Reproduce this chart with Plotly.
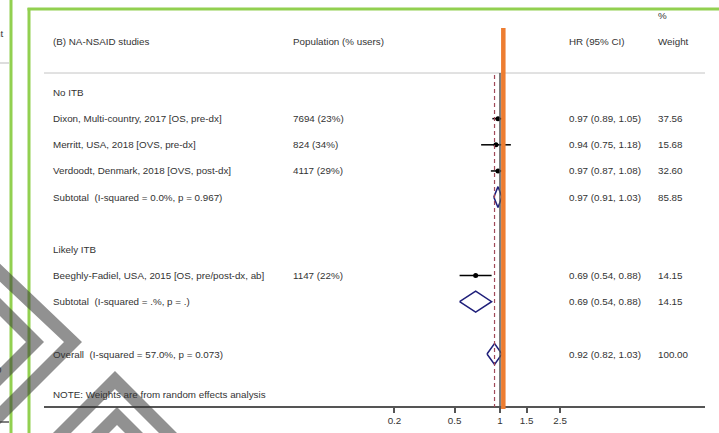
import plotly.graph_objects as go

# ---------------- data ----------------
studies = ["Dixon, Multi-country, 2017 [OS, pre-dx]",
           "Merritt, USA, 2018 [OVS, pre-dx]",
           "Verdoodt, Denmark, 2018 [OVS, post-dx]",
           "Beeghly-Fadiel, USA, 2015 [OS, pre/post-dx, ab]"]
population = ["7694 (23%)", "824 (34%)", "4117 (29%)", "1147 (22%)"]
study_hr = [0.97, 0.94, 0.97, 0.69]
study_lo = [0.89, 0.75, 0.87, 0.54]
study_hi = [1.05, 1.18, 1.08, 0.88]
study_w = ["37.56", "15.68", "32.60", "14.15"]
study_rows = [1, 2, 3, 7]

pooled = ["Subtotal\u00a0 (I-squared = 0.0%, p = 0.967)",
          "Subtotal\u00a0 (I-squared = .%, p = .)",
          "Overall\u00a0 (I-squared = 57.0%, p = 0.073)"]
pooled_hr = [0.97, 0.69, 0.92]
pooled_lo = [0.91, 0.54, 0.82]
pooled_hi = [1.03, 0.88, 1.03]
pooled_w = ["85.85", "14.15", "100.00"]
pooled_rows = [4, 8, 10]

groups = ["No ITB", "Likely ITB"]
group_rows = [0, 6]

tick_vals = [0.2, 0.5, 1, 1.5, 2.5]
tick_text = ["0.2", "0.5", "1", "1.5", "2.5"]
overall_hr = 0.92
null_hr = 1
orange_ref = 1.052

# ---------------- geometry helpers ----------------
W, H = 719, 433
ML, MR, MB = 44, 14, 20
PW, PH = W - ML - MR, H - MB
ROW0, ROWH = 92.5, 26.15
X_ONE, PX_PER_DECADE = 500, 151
AXIS_Y = 407


def px(p):
    return (p - ML) / PW


def py(p):
    return (PH - p) / PH


def prow(p):
    return (p - ROW0) / ROWH


FONT = "Liberation Sans, Arial, sans-serif"
FS = 9.8
TC = "#333333"

fig = go.Figure()

# CI lines + point estimates
for r, h, lo, hi in zip(study_rows, study_hr, study_lo, study_hi):
    fig.add_trace(go.Scatter(x=[lo, hi], y=[r, r], mode="lines",
                             line=dict(color="black", width=1.5),
                             hoverinfo="skip", showlegend=False))
fig.add_trace(go.Scatter(x=study_hr, y=study_rows, mode="markers",
                         marker=dict(color="black", size=5),
                         hoverinfo="skip", showlegend=False))

# diamonds
for r, h, lo, hi in zip(pooled_rows, pooled_hr, pooled_lo, pooled_hi):
    fig.add_trace(go.Scatter(x=[lo, h, hi, h, lo], y=[r, r - 0.4, r, r + 0.4, r],
                             mode="lines", line=dict(color="#1f1f7a", width=1.5),
                             hoverinfo="skip", showlegend=False))

ann = []


def text(x, y, s, anchor="left", yref="y"):
    ann.append(dict(x=px(x), y=y, xref="paper", yref=yref, text=s, showarrow=False,
                    xanchor=anchor, yanchor="middle",
                    font=dict(family=FONT, size=FS, color=TC)))


# headers
text(51, prow(41.7), "(B) NA-NSAID studies")
text(291, prow(41.7), "Population (% users)")
text(567, prow(41.7), "HR (95% CI)")
text(656, prow(15), "%")
text(656, prow(41.7), "Weight")

for g, r in zip(groups, group_rows):
    text(51, r, g)
for s, p, h, lo, hi, w, r in zip(studies, population, study_hr, study_lo, study_hi, study_w, study_rows):
    text(51, r, s)
    text(291, r, p)
    text(567, r, f"{h:.2f} ({lo:.2f}, {hi:.2f})")
    text(656, r, w)
for s, h, lo, hi, w, r in zip(pooled, pooled_hr, pooled_lo, pooled_hi, pooled_w, pooled_rows):
    text(51, r, s)
    text(567, r, f"{h:.2f} ({lo:.2f}, {hi:.2f})")
    text(656, r, w)
text(51, prow(394), "NOTE: Weights are from random effects analysis")

# left-panel remnants (cut by the crop edge, as in the reference)
text(5, prow(33), "nt", anchor="right")
text(4, prow(369), "0", anchor="right")

shapes = []
# separator line
shapes.append(dict(type="line", xref="paper", yref="y", x0=0, x1=1,
                   y0=prow(73), y1=prow(73), line=dict(color="#c4c4c4", width=1)))
# axis base line
shapes.append(dict(type="line", xref="paper", yref="y", x0=0, x1=1,
                   y0=prow(AXIS_Y), y1=prow(AXIS_Y), line=dict(color="#555555", width=2)))
# null line and overall dashed line
shapes.append(dict(type="line", xref="x", yref="y", x0=null_hr, x1=null_hr,
                   y0=prow(73), y1=prow(AXIS_Y), line=dict(color="#555555", width=1.5)))
shapes.append(dict(type="line", xref="x", yref="y", x0=overall_hr, x1=overall_hr,
                   y0=prow(75), y1=prow(AXIS_Y), line=dict(color="#a04858", width=1.2, dash="4px,3px")))
# orange overlay line
shapes.append(dict(type="line", xref="x", yref="y", x0=orange_ref, x1=orange_ref,
                   y0=prow(28), y1=prow(AXIS_Y + 2), line=dict(color="#ED7D31", width=4.5)))

# green frames
GREEN = "#92D050"
shapes.append(dict(type="line", xref="paper", yref="paper", x0=px(11), x1=px(11),
                   y0=py(0), y1=py(433), line=dict(color=GREEN, width=3)))
shapes.append(dict(type="line", xref="paper", yref="paper", x0=px(29), x1=px(29),
                   y0=py(8), y1=py(433), line=dict(color=GREEN, width=3)))
shapes.append(dict(type="line", xref="paper", yref="paper", x0=px(27.5), x1=px(719),
                   y0=py(9), y1=py(9), line=dict(color=GREEN, width=3)))
# left-panel grey lines
shapes.append(dict(type="line", xref="paper", yref="paper", x0=px(0), x1=px(9),
                   y0=py(63), y1=py(63), line=dict(color="#bbbbbb", width=1)))
shapes.append(dict(type="line", xref="paper", yref="paper", x0=px(0), x1=px(9),
                   y0=py(422), y1=py(422), line=dict(color="#555555", width=1.5)))


# watermark polygons (pixel coordinates)
def poly(pts):
    d = "M " + " L ".join(f"{px(a):.5f},{py(b):.5f}" for a, b in pts) + " Z"
    shapes.append(dict(type="path", xref="paper", yref="paper", path=d,
                       fillcolor="rgba(55,55,55,0.55)", line=dict(width=0), layer="above"))


poly([(-5, 259), (82, 342), (-5, 429), (-5, 411), (64, 342), (-5, 277)])
poly([(-5, 293), (44, 342), (-5, 391), (-5, 373), (26, 342), (-5, 311)])
poly([(53, 433), (115, 371), (177, 433), (159, 433), (115, 389), (71, 433)])
poly([(91, 433), (117, 407), (143, 433), (125, 433), (117, 425), (109, 433)])

x_range = [(ML - X_ONE) / PX_PER_DECADE, (W - MR - X_ONE) / PX_PER_DECADE]

fig.update_layout(
    width=W, height=H,
    margin=dict(l=ML, r=MR, t=0, b=MB, pad=0),
    paper_bgcolor="white", plot_bgcolor="white",
    showlegend=False,
    annotations=ann, shapes=shapes,
    xaxis=dict(type="log", range=x_range,
               tickvals=tick_vals, ticktext=tick_text,
               ticks="inside", ticklen=PH - AXIS_Y, tickwidth=1.5, tickcolor="#555555",
               showline=False,
               showgrid=False, zeroline=False, fixedrange=True,
               tickfont=dict(family=FONT, size=FS, color=TC)),
    yaxis=dict(range=[prow(PH), prow(0)], visible=False, fixedrange=True),
)

fig.write_html("out.html", config={"displayModeBar": False},
               post_script="document.body.style.margin='0px';document.body.style.overflow='hidden';")
